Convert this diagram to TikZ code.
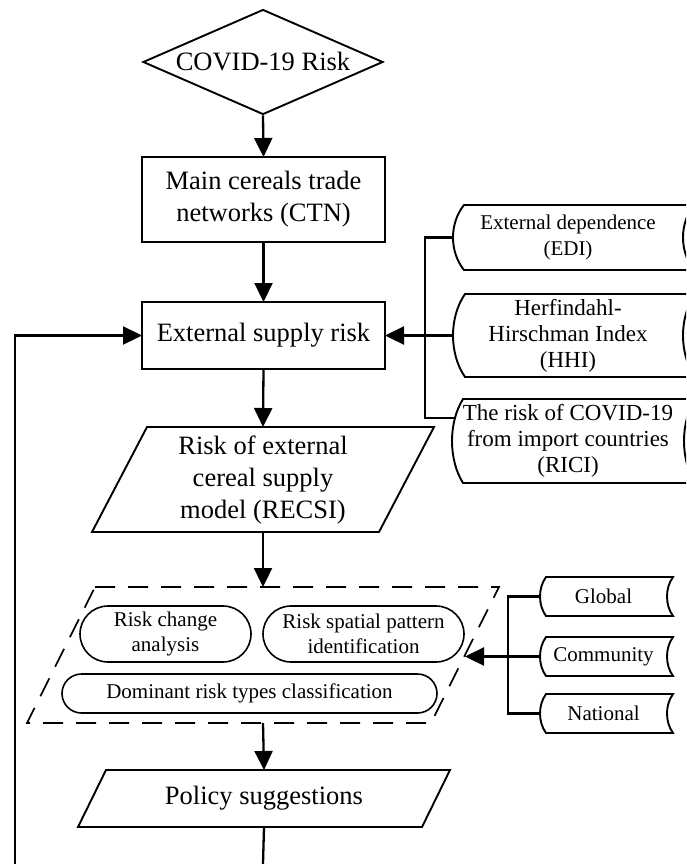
\documentclass[tikz,border=0pt]{standalone}
\usepackage{fontspec}
\setmainfont{Liberation Serif}
\usetikzlibrary{arrows.meta,shapes.geometric,calc}
\tikzset{
  outline/.style={line width=1.9pt},
  thinline/.style={line width=1.6pt},
  conn/.style={line width=2.3pt},
  arr/.style={conn,-{Triangle[length=19pt,width=18pt]}},
  big/.style={font=\fontsize{26.5}{32}\selectfont},
  small/.style={font=\fontsize{21}{25.5}\selectfont},
  midf/.style={font=\fontsize{23}{26}\selectfont},
  box/.style={inner sep=0pt, outer sep=0pt, align=center},
  rectbox/.style={box, draw, outline, big},
  stadium/.style={box, draw, thinline, small},
  dashedline/.style={line width=1.6pt, dash pattern=on 20pt off 13pt},
}
\newcommand\paraoutline[3][outline]{%
  \draw[#1] ([xshift=#3]#2.north west) -- ([xshift=#3]#2.north east)
    -- ([xshift=-#3]#2.south east) -- ([xshift=-#3]#2.south west) -- cycle;}
\newcommand\sdoutline[2]{%
  \draw[outline] ([xshift=#2]#1.north west) -- ([xshift=#2]#1.north east)
    .. controls ($([xshift=-#2/3]#1.north east)!0.28!([xshift=-#2/3]#1.south east)$)
       and ($([xshift=-#2/3]#1.north east)!0.72!([xshift=-#2/3]#1.south east)$)
    .. ([xshift=#2]#1.south east)
    -- ([xshift=#2]#1.south west)
    .. controls ($([xshift=-#2/3]#1.north west)!0.72!([xshift=-#2/3]#1.south west)$)
       and ($([xshift=-#2/3]#1.north west)!0.28!([xshift=-#2/3]#1.south west)$)
    .. cycle;}
\begin{document}
\begin{tikzpicture}[x=1pt,y=-1pt]
\clip (0,0) rectangle (686,864);
\fill[white] (0,0) rectangle (686,864);

% main column
\node[diamond, draw, outline, big, inner sep=0pt, aspect=2.3,
      minimum width=240pt, minimum height=105pt] (risk) at (263,62) {COVID-19 Risk};
\node[rectbox, minimum width=243pt, minimum height=85pt] (ctn) at (263.5,199.5)
      {Main cereals trade\\networks (CTN)};
\node[rectbox, minimum width=243pt, minimum height=67pt] (esr) at (263.5,335.5)
      {External supply risk};
\node[box, big, minimum width=287pt, minimum height=105pt] (recsi) at (263,479.5)
      {Risk of external\\cereal supply\\model (RECSI)};
\paraoutline{recsi}{27.5pt}

\node[box, minimum width=404pt, minimum height=136pt] (ana) at (263,655) {};
\paraoutline[dashedline]{ana}{34pt}
\node[stadium, rounded corners=28pt, minimum width=171pt, minimum height=56pt]
      (rca) at (165.5,634) {Risk change\\analysis};
\node[stadium, rounded corners=28pt, minimum width=201pt, minimum height=56pt]
      (rsp) at (363.5,634) {Risk spatial pattern\\identification};
\node[stadium, rounded corners=19.5pt, minimum width=375pt, minimum height=39pt]
      (drt) at (249.5,693.5) {Dominant risk types classification};

\node[box, big, minimum width=344pt, minimum height=57pt] (pol) at (264,798.5)
      {Policy suggestions};
\paraoutline{pol}{14pt}

% right: indicators
\node[box, small, minimum width=230pt, minimum height=65pt] (edi) at (568,237.5)
      {External dependence\\(EDI)};
\sdoutline{edi}{11pt}
\node[box, midf, minimum width=230pt, minimum height=83pt] (hhi) at (568,335.5)
      {Herfindahl-\\Hirschman Index\\(HHI)};
\sdoutline{hhi}{12pt}
\node[box, midf, minimum width=232pt, minimum height=84pt] (rici) at (568,441)
      {The risk of COVID-19\\from import countries\\(RICI)};
\sdoutline{rici}{11pt}

% right: scales
\node[box, small, minimum width=127pt, minimum height=39pt] (glob) at (603.5,596.5) {Global};
\sdoutline{glob}{6pt}
\node[box, small, minimum width=127pt, minimum height=39pt] (com) at (603.5,656.5) {Community};
\sdoutline{com}{6pt}
\node[box, small, minimum width=127pt, minimum height=39pt] (nat) at (603.5,713.5) {National};
\sdoutline{nat}{6pt}

% connectors
\draw[arr] (risk.south) -- (ctn.north);
\draw[arr] (ctn.south) -- (esr.north);
\draw[arr] (esr.south) -- (recsi.north);
\draw[arr] (recsi.south) -- (ana.north);
\draw[arr] (ana.south) -- (pol.north);
\coordinate (pend) at (263,864);
\draw[conn] (pol.south) -- (pend);
\coordinate (fb) at (15,864);
\draw[arr] (fb) |- (esr.west);

\coordinate (bx1) at (425,418);
\draw[conn] (edi.west) -| (bx1) -- ([xshift=4pt]rici.west |- bx1);
\draw[arr] (hhi.west) -- (esr.east);

\coordinate (bx2) at (508,0);
\draw[conn] (glob.west) -| (bx2 |- nat.west) -- (nat.west);
\draw[arr] (com.west) -- (com.west -| ana.east);
\end{tikzpicture}
\end{document}
